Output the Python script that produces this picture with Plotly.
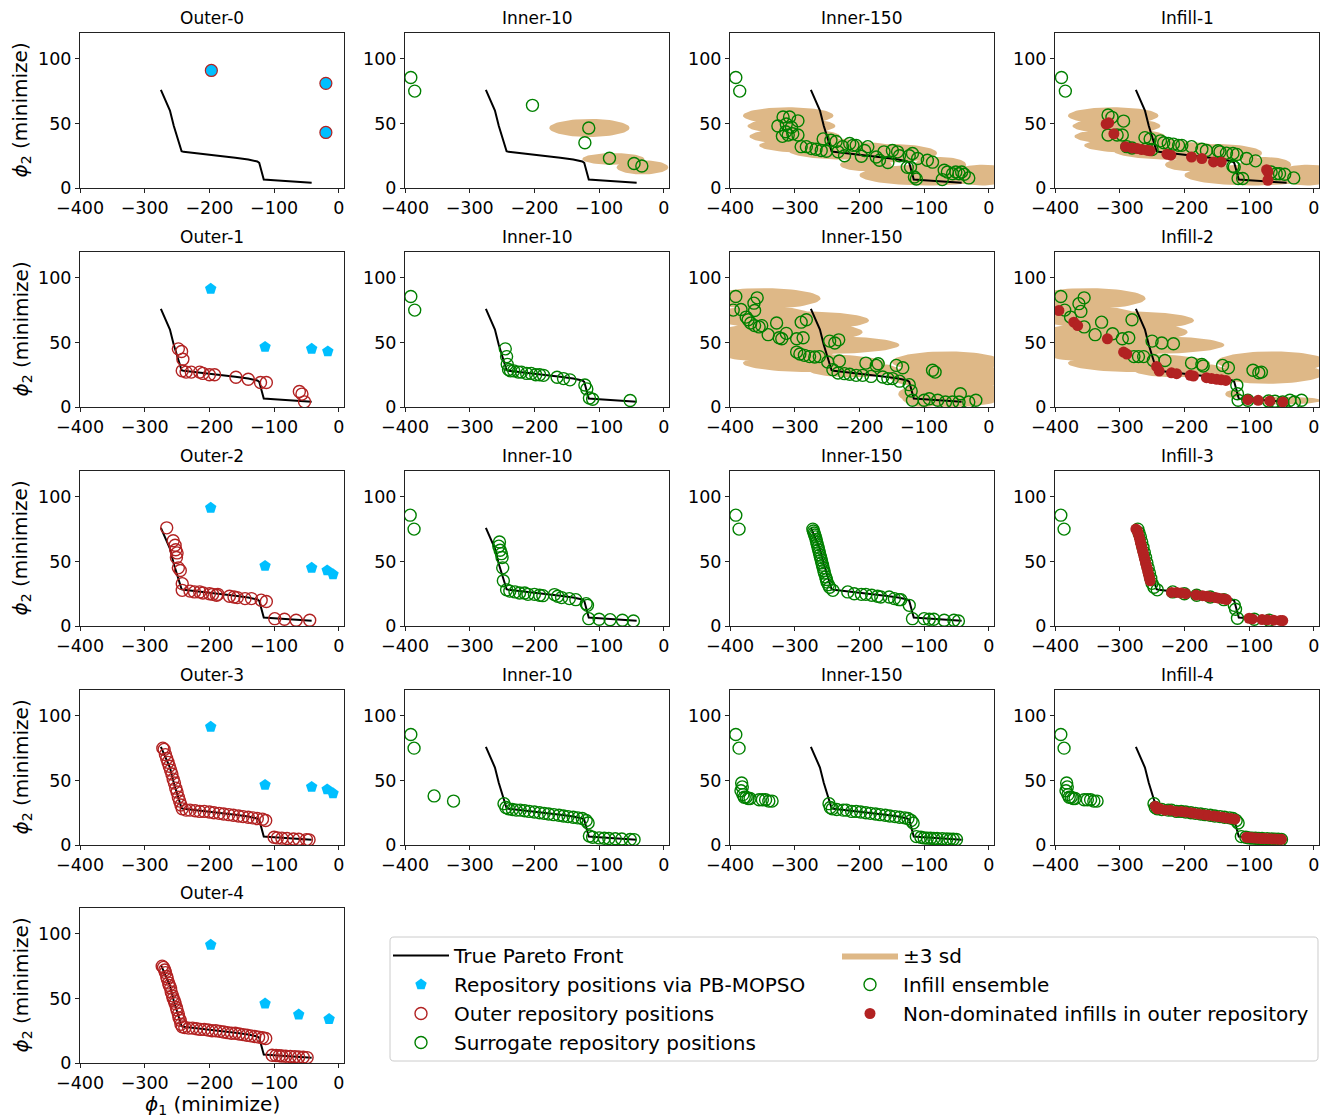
import numpy as np
import plotly.graph_objects as go

W, H = 1329, 1119

# ---------------- data ----------------
x_ticks = [-400, -300, -200, -100, 0]
y_ticks = [0, 50, 100]

pf_x = [-275, -268, -261, -255, -249, -243, -240, -220, -200, -180, -160, -140, -126, -123, -119, -116, -100, -80, -60, -42]
pf_y = [76, 68, 60, 48, 38, 28.5, 28, 27, 26, 25, 23.5, 22, 20.5, 19.5, 12, 6.5, 6, 5.2, 4.5, 4]

outer0_xy = [(-197, 91), (-20, 81), (-20, 43)]

outer1_pb = [(-198, 91.5), (-114, 46.5), (-42, 45), (-17, 43)]
outer2_pb = [(-198, 91.5), (-114, 46.5), (-42, 45), (-18, 43), (-9, 40)]
outer3_pb = [(-198, 91.5), (-114, 46.5), (-42, 45), (-18, 43), (-9, 40)]
outer4_pb = [(-198, 91.5), (-114, 46), (-62, 37.5), (-15, 34)]

outer1_repo = [(-248, 45), (-243, 43), (-241, 37), (-242, 28), (-236, 27), (-228, 27), (-215, 27), (-210, 26),
               (-200, 25), (-192, 25), (-159, 23), (-140, 21.5), (-121, 19), (-112, 19), (-61, 12), (-57, 10), (-53, 4)]
outer2_repo = [(-266, 76), (-256, 66), (-253, 62.5), (-252, 59), (-250, 56.6), (-251, 53), (-248, 45), (-245, 43),
               (-242, 32.8), (-242, 27.6), (-230, 27), (-223, 26.4), (-215, 26.4), (-210, 25.6), (-200, 25),
               (-195, 24.5), (-189, 23.8), (-187, 24.5), (-169, 23), (-162, 22.5), (-157, 22), (-145, 21.2),
               (-135, 21.2), (-120, 20), (-112, 19), (-99, 5.7), (-84, 5.2), (-66, 4.4), (-45, 4.4)]
outer3_repo = [(-272, 75), (-270, 74), (-268, 70), (-266, 67), (-264, 64), (-262, 61), (-260, 58), (-258, 55),
               (-256, 51), (-254, 48), (-252, 44), (-250, 41), (-248, 37), (-246, 34), (-244, 31), (-242, 28),
               (-236, 27), (-230, 27), (-222, 26.5), (-215, 26), (-208, 26), (-200, 25.5), (-193, 25), (-185, 24.5),
               (-178, 24), (-170, 23.5), (-163, 23), (-155, 22.5), (-148, 22), (-140, 21.5), (-133, 21), (-126, 20.5),
               (-118, 20), (-113, 19), (-100, 6), (-95, 5.5), (-88, 5.3), (-80, 5), (-70, 4.6), (-62, 4.5), (-50, 4.2), (-46, 4)]
outer4_repo = [(-273, 75), (-271, 74), (-269, 72), (-268, 70), (-266, 67), (-265, 65), (-263, 62), (-262, 60),
               (-260, 58), (-259, 55), (-257, 52), (-256, 50), (-254, 48), (-253, 46), (-251, 43), (-250, 41),
               (-248, 38), (-247, 35), (-245, 33), (-244, 30), (-242, 28), (-238, 27.5), (-232, 27), (-226, 27),
               (-220, 26.5), (-214, 26), (-208, 26), (-202, 25.5), (-196, 25), (-190, 25), (-184, 24.5), (-178, 24),
               (-172, 23.5), (-166, 23), (-160, 23), (-154, 22.5), (-148, 22), (-142, 21.5), (-136, 21), (-130, 20.5),
               (-124, 20), (-118, 19.5), (-113, 19), (-103, 6), (-97, 5.8), (-92, 5.6), (-88, 5.4), (-82, 5.2),
               (-75, 5), (-68, 4.8), (-62, 4.6), (-55, 4.4), (-49, 4.2)]

inner10_r1 = [(-391, 85.5), (-385, 75), (-203, 64), (-116, 46.5), (-122, 35), (-84, 23), (-46, 19), (-34, 17)]
inner10_r2 = [(-391, 85.5), (-385, 75), (-245, 45), (-243, 39), (-242, 33), (-240, 29), (-237, 28), (-232, 28),
              (-225, 27), (-220, 27), (-212, 26), (-205, 26), (-198, 25), (-192, 25), (-186, 24.5), (-165, 23),
              (-155, 22), (-145, 21), (-122, 17), (-119, 14), (-115, 7), (-110, 6), (-52, 5)]
inner10_r3 = [(-392, 85.8), (-386, 75), (-254, 65), (-255, 61.8), (-253, 58.7), (-251, 56), (-250, 53), (-249, 45),
              (-248, 35), (-243, 28), (-238, 27), (-230, 26.4), (-223, 25.6), (-215, 25.6), (-210, 24.5), (-200, 24.5),
              (-192, 23.8), (-187, 23.5), (-169, 24.3), (-164, 23), (-158, 22), (-146, 21.2), (-136, 20.4),
              (-120, 17.3), (-118, 16), (-116, 5.7), (-100, 5.2), (-83, 4.9), (-64, 4.4), (-47, 3.9)]
inner10_r4 = [(-391, 85.5), (-386, 75), (-355, 38), (-325, 34), (-247, 32), (-244, 29), (-240, 28), (-234, 27.5),
              (-228, 27), (-222, 27), (-215, 26.5), (-208, 26), (-200, 25.5), (-192, 25), (-185, 24.5), (-178, 24),
              (-170, 23.5), (-162, 23), (-155, 22.5), (-148, 22), (-140, 21.5), (-133, 21), (-126, 20.5), (-120, 19),
              (-117, 17), (-115, 7), (-110, 6), (-100, 5.5), (-92, 5.2), (-85, 5), (-75, 4.8), (-65, 4.6), (-52, 4.3), (-46, 4.2)]

inner150_r1 = [(-391, 85.5), (-385, 75), (-326, 48), (-318, 55), (-313, 49.5), (-308, 55), (-305, 47), (-314, 43.5),
               (-319, 40), (-310, 41), (-303, 42), (-295, 41), (-295, 52), (-290, 32), (-282, 32), (-274, 30.5),
               (-267, 30), (-259, 29), (-251, 28.5), (-256, 38), (-244, 37), (-236, 36), (-226, 32), (-215, 34.5),
               (-210, 33), (-205, 33), (-192, 29), (-187, 32), (-233, 28), (-223, 25), (-197, 24.6), (-174, 24),
               (-169, 21.5), (-162, 28), (-156, 19.7), (-149, 29), (-141, 28), (-138, 25), (-123, 25), (-118, 26.7),
               (-110, 22.8), (-95, 21.5), (-87, 20), (-126, 16), (-121, 16), (-115, 8.5), (-112, 7), (-72, 6.5),
               (-69, 13.7), (-64, 12.4), (-56, 11), (-51, 12.4), (-46, 11), (-42, 12.4), (-38, 10.6), (-31, 7.8)]
infill1_green = [(-390, 85.5), (-384, 75), (-318, 56.5), (-312, 54.7), (-294, 51.8), (-318, 41), (-304, 41), (-296, 41),
                 (-289, 32), (-281, 31), (-261, 39), (-253, 38), (-237, 36.5), (-232, 35), (-225, 34.5), (-217, 34),
                 (-209, 33), (-204, 33), (-189, 32), (-173, 30), (-166, 29), (-148, 28.8), (-145, 28), (-135, 27),
                 (-125, 26.7), (-119, 26), (-104, 22.8), (-90, 21), (-125, 16.8), (-123, 16.3), (-117, 7.3), (-110, 7.3),
                 (-66, 12.4), (-58, 11), (-53, 11), (-45, 10.6), (-31, 7.8), (-258, 30.5), (-250, 29.8)]
infill1_nd = [(-321, 49.5), (-317, 50.5), (-309, 42), (-291, 32), (-281, 31), (-273, 30.5), (-266, 29.8), (-258, 29.3),
              (-253, 28.8), (-227, 26.2), (-221, 25.4), (-189, 24), (-173, 22.8), (-155, 20.2), (-143, 20.2),
              (-73, 14.2), (-71, 12.4), (-71, 6)]

inner150_r2 = [(-395, 75), (-391, 85.6), (-383, 75.5), (-375, 69.6), (-372, 67.5), (-368, 65), (-363, 80.4), (-362, 74.7),
               (-362, 63), (-358, 84.5), (-355, 62), (-351, 63), (-341, 56), (-328, 65), (-324, 53.6), (-320, 52.8),
               (-313, 57), (-297, 52.8), (-287, 53.6), (-297, 42.5), (-292, 41), (-285, 40), (-277, 39), (-269, 38.7),
               (-262, 39), (-290, 65.7), (-282, 67.5), (-246, 51), (-238, 49.5), (-232, 52), (-249, 34.8), (-241, 28.9),
               (-231, 35.6), (-233, 26.3), (-223, 25.8), (-215, 25.3), (-205, 24.5), (-195, 24.5), (-190, 34),
               (-182, 23.7), (-174, 32.2), (-171, 33.5), (-164, 23.2), (-156, 22), (-149, 22), (-143, 32.2),
               (-133, 30.4), (-138, 20), (-123, 17.3), (-120, 12.4), (-118, 5.2), (-100, 5.2), (-87, 28.4), (-83, 27),
               (-92, 6.4), (-79, 5.2), (-67, 3.9), (-56, 3.9), (-44, 10.3), (-46, 3.9), (-31, 3.9), (-20, 5.2)]
infill2_green = [(-391, 85.6), (-385, 75), (-376, 69.6), (-363, 80), (-360, 74), (-355, 84.5), (-355, 62), (-338, 56),
                 (-328, 65.7), (-311, 56.7), (-296, 52.8), (-286, 53.6), (-281, 67.5), (-278, 39), (-271, 39), (-263, 39),
                 (-250, 51), (-235, 49.5), (-217, 49), (-248, 36), (-230, 36), (-189, 34), (-173, 33), (-171, 31.7),
                 (-141, 32.2), (-132, 30.4), (-94, 28.4), (-85, 26.5), (-81, 27), (-119, 16.8), (-118, 10.3),
                 (-117, 5.2), (-102, 5.2), (-37, 5.2), (-30, 3.9), (-19, 5.2), (-48, 3.9), (-60, 4.5), (-70, 4.6)]
infill2_nd = [(-394, 74.7), (-371, 65.7), (-365, 63), (-319, 52.8), (-294, 42.5), (-289, 41), (-243, 31.4), (-239, 27.8),
              (-220, 26.5), (-212, 25.8), (-191, 24.5), (-186, 24), (-166, 22.7), (-158, 22), (-150, 21.4), (-143, 21),
              (-136, 20.6), (-102, 5.7), (-86, 5.2), (-68, 4.6), (-48, 3.9)]

inner150_r3 = [(-391, 85.8), (-386, 75), (-272, 75), (-271, 73.5), (-270, 72), (-269, 70.5), (-268, 69), (-267, 67),
               (-266, 65), (-265, 63), (-264, 61), (-263, 59), (-262, 57), (-261, 55), (-260, 53), (-259, 51), (-258, 49),
               (-257, 47), (-256, 45), (-255, 43), (-254, 41), (-252, 38), (-251, 36), (-250, 34), (-248, 32), (-246, 30),
               (-241, 27.6), (-218, 26.4), (-208, 25), (-197, 24.5), (-190, 24.5), (-181, 23.8), (-172, 23), (-167, 22.5),
               (-154, 22.5), (-146, 21.2), (-139, 20.4), (-136, 20.4), (-123, 16), (-118, 5.7), (-100, 5.7), (-92, 5.2),
               (-85, 5.2), (-69, 4.4), (-54, 4.4), (-47, 3.9)]
infill3_green = [(-391, 85.8), (-386, 75), (-272, 75), (-270, 72), (-268, 69), (-266, 65), (-264, 61), (-262, 57),
                 (-260, 53), (-258, 49), (-256, 45), (-254, 41), (-252, 37), (-250, 33), (-247, 30), (-242, 28),
                 (-218, 26.4), (-200, 25), (-181, 23.8), (-160, 22.5), (-139, 20.4), (-123, 16), (-121, 13), (-118, 6),
                 (-92, 5.2), (-69, 4.4)]
infill3_nd = [(-275, 75), (-273, 74), (-272, 72.5), (-271, 71), (-270, 69), (-269, 67), (-268, 65), (-267, 63), (-266, 61),
              (-265, 59), (-264, 57), (-263, 55), (-262, 53), (-261, 51), (-260, 49), (-259, 47), (-258, 45), (-257, 43),
              (-256, 41), (-255, 39), (-254, 37), (-253, 35), (-220, 26), (-212, 26), (-205, 25.5), (-198, 25),
              (-182, 24), (-172, 23.5), (-165, 23), (-160, 22.5), (-152, 22), (-147, 21.5), (-140, 21), (-135, 20.5),
              (-100, 6), (-95, 5.5), (-80, 5), (-72, 4.8), (-62, 4.5), (-52, 4.3), (-48, 4.2)]

inner150_r4 = [(-391, 85.5), (-386, 75), (-382, 48), (-381, 45), (-383, 42), (-380, 39), (-378, 37), (-375, 37),
               (-372, 36), (-369, 36), (-355, 35), (-350, 35), (-345, 35), (-340, 34), (-335, 34),
               (-247, 32), (-245, 29), (-242, 28), (-235, 27.5), (-225, 27), (-220, 27), (-212, 26), (-205, 26),
               (-198, 25.5), (-190, 25), (-183, 24.5), (-175, 24), (-168, 23.5), (-160, 23), (-153, 22.5), (-145, 22),
               (-138, 21.5), (-130, 21), (-125, 20.5), (-120, 19), (-117, 17), (-112, 6.5), (-105, 6), (-100, 5.5),
               (-95, 5.3), (-90, 5.2), (-85, 5), (-80, 5), (-72, 4.8), (-65, 4.6), (-60, 4.5), (-55, 4.4), (-50, 4.3)]
infill4_green = inner150_r4
infill4_nd = [(-245, 30), (-242, 28), (-238, 28), (-230, 27), (-222, 27), (-213, 26), (-205, 26), (-198, 25.5), (-190, 25),
              (-185, 24.5), (-178, 24), (-170, 23.5), (-163, 23), (-155, 22.5), (-148, 22), (-141, 21.5), (-135, 21),
              (-128, 20.5), (-122, 20), (-104, 6), (-100, 5.8), (-95, 5.6), (-90, 5.4), (-85, 5.2), (-80, 5), (-75, 5),
              (-70, 4.8), (-65, 4.7), (-60, 4.6), (-55, 4.5), (-50, 4.4)]

# +-3 sd regions: (centre x, centre y, 3sd in x, 3sd in y)
sd_inner10_r1 = [(-115, 46.5, 62, 7), (-78, 22.5, 48, 4.5), (-33, 16, 40, 5.5)]
sd_r1 = [(-310, 56, 70, 6.5), (-305, 48, 68, 6), (-300, 40, 70, 6), (-270, 33, 85, 6), (-220, 29, 90, 7),
         (-150, 27, 70, 7), (-190, 18, 40, 5), (-95, 10, 105, 8), (-10, 10, 50, 8), (-75, 18, 40, 6)]
sd_r2 = [(-350, 84, 90, 8), (-350, 70, 80, 8), (-290, 67, 105, 7), (-305, 58, 110, 8), (-360, 50, 60, 6),
         (-260, 48, 122, 7), (-330, 42, 90, 7), (-270, 34, 110, 7), (-210, 29, 70, 6), (-65, 35, 85, 8),
         (-60, 24, 95, 10), (-55, 10, 85, 10), (-100, 8, 35, 8)]
sd_r2_infill = [(-350, 84, 90, 8), (-350, 70, 80, 8), (-290, 67, 105, 7), (-305, 58, 110, 8), (-360, 50, 60, 6),
                (-260, 48, 122, 7), (-330, 42, 90, 7), (-270, 34, 110, 7), (-210, 29, 70, 6), (-65, 35, 85, 8),
                (-70, 26, 85, 8), (-125, 10, 12, 3), (-50, 5, 62, 3)]

# ---------------- styling ----------------
FONT = "DejaVu Sans"
RED = "#B22222"
GREEN = "#008000"
CYAN = "#00BFFF"
TAN = "#DEB887"

col_left = [80, 405, 730, 1055]
row_top = [33, 252, 471, 690, 908]
pw, ph = 264, 155

panels = [
    (0, 0, "Outer-0", [("outer0", outer0_xy)]),
    (0, 1, "Inner-10", [("sd", sd_inner10_r1), ("surr", inner10_r1)]),
    (0, 2, "Inner-150", [("sd", sd_r1), ("surr", inner150_r1)]),
    (0, 3, "Infill-1", [("sd", sd_r1), ("infill", infill1_green), ("nd", infill1_nd)]),
    (1, 0, "Outer-1", [("pb", outer1_pb), ("outer", outer1_repo)]),
    (1, 1, "Inner-10", [("surr", inner10_r2)]),
    (1, 2, "Inner-150", [("sd", sd_r2), ("surr", inner150_r2)]),
    (1, 3, "Infill-2", [("sd", sd_r2_infill), ("infill", infill2_green), ("nd", infill2_nd)]),
    (2, 0, "Outer-2", [("pb", outer2_pb), ("outer", outer2_repo)]),
    (2, 1, "Inner-10", [("surr", inner10_r3)]),
    (2, 2, "Inner-150", [("surr", inner150_r3)]),
    (2, 3, "Infill-3", [("infill", infill3_green), ("nd", infill3_nd)]),
    (3, 0, "Outer-3", [("pb", outer3_pb), ("outer", outer3_repo)]),
    (3, 1, "Inner-10", [("surr", inner10_r4)]),
    (3, 2, "Inner-150", [("surr", inner150_r4)]),
    (3, 3, "Infill-4", [("infill", infill4_green), ("nd", infill4_nd)]),
    (4, 0, "Outer-4", [("pb", outer4_pb), ("outer", outer4_repo)]),
]

styles = {
    "pf": dict(name="True Pareto Front", rank=1, legend="legend"),
    "sd": dict(name="±3 sd", rank=2, legend="legend2"),
    "pb": dict(name="Repository positions via PB-MOPSO", rank=3, legend="legend",
               marker=dict(symbol="pentagon", size=12, color=CYAN, line=dict(width=0))),
    "infill": dict(name="Infill ensemble", rank=4, legend="legend2",
                   marker=dict(symbol="circle-open", size=12, color=GREEN, line=dict(width=1.4))),
    "outer": dict(name="Outer repository positions", rank=5, legend="legend",
                  marker=dict(symbol="circle-open", size=12, color=RED, line=dict(width=1.4))),
    "nd": dict(name="Non-dominated infills in outer repository", rank=6, legend="legend2",
               marker=dict(symbol="circle", size=11, color=RED, line=dict(width=0))),
    "surr": dict(name="Surrogate repository positions", rank=7, legend="legend",
                 marker=dict(symbol="circle-open", size=12, color=GREEN, line=dict(width=1.4))),
    "outer0": dict(name="outer0", rank=99, legend="legend",
                   marker=dict(symbol="circle", size=12, color=CYAN, line=dict(width=1.2, color=RED))),
}

theta = np.linspace(0, 2 * np.pi, 73)


def ellipse_path(ells):
    xs, ys = [], []
    for cx, cy, sx, sy in ells:
        xs += list(cx + sx * np.cos(theta)) + [None]
        ys += list(cy + sy * np.sin(theta)) + [None]
    return xs, ys


fig = go.Figure()
shown = set()
axes = {}
annotations = []

axis_style = dict(showline=True, mirror=True, linecolor="#222222", linewidth=1, ticks="outside", ticklen=4,
                  tickwidth=1, tickcolor="#222222", showgrid=False, zeroline=False,
                  tickfont=dict(family=FONT, size=17.5, color="black"), automargin=False, fixedrange=True)


def legend_flag(kind):
    if kind in shown or kind == "outer0":
        return False
    shown.add(kind)
    return True


for k, (r, c, title, layers) in enumerate(panels, start=1):
    s = "" if k == 1 else str(k)
    xa, ya = "x" + s, "y" + s
    left, top = col_left[c], row_top[r]
    axes["xaxis" + s] = dict(domain=[left / W, (left + pw) / W], anchor=ya, range=[-400, 8],
                             tickvals=x_ticks, **axis_style)
    axes["yaxis" + s] = dict(domain=[1 - (top + ph) / H, 1 - top / H], anchor=xa, range=[0, 120],
                             tickvals=y_ticks, **axis_style)
    annotations.append(dict(text=title, x=(left + pw / 2) / W, y=1 - (top - 15) / H, xref="paper", yref="paper",
                            xanchor="center", yanchor="middle", showarrow=False,
                            font=dict(family=FONT, size=17, color="black")))
    if c == 0:
        annotations.append(dict(text="<i>ϕ</i><sub>2</sub> (minimize)", x=21 / W, y=1 - (top + ph / 2) / H,
                                xref="paper", yref="paper", xanchor="center", yanchor="middle", textangle=-90,
                                showarrow=False, font=dict(family=FONT, size=20, color="black")))

    for kind, data in layers:
        if kind == "sd":
            ex, ey = ellipse_path(data)
            st = styles["sd"]
            fig.add_trace(go.Scatter(x=ex, y=ey, xaxis=xa, yaxis=ya, mode="lines", fill="toself",
                                     fillcolor=TAN, line=dict(width=0, color=TAN), name=st["name"],
                                     legend=st["legend"], legendrank=st["rank"],
                                     showlegend=legend_flag("sd"), hoverinfo="skip"))
    fig.add_trace(go.Scatter(x=pf_x, y=pf_y, xaxis=xa, yaxis=ya, mode="lines",
                             line=dict(color="black", width=2), name=styles["pf"]["name"],
                             legend="legend", legendrank=styles["pf"]["rank"], showlegend=legend_flag("pf")))
    for kind, data in layers:
        if kind == "sd":
            continue
        st = styles[kind]
        px = [p[0] for p in data]
        py = [p[1] for p in data]
        fig.add_trace(go.Scatter(x=px, y=py, xaxis=xa, yaxis=ya, mode="markers", marker=st["marker"],
                                 name=st["name"], legend=st["legend"], legendrank=st["rank"],
                                 showlegend=legend_flag(kind)))

annotations.append(dict(text="<i>ϕ</i><sub>1</sub> (minimize)", x=(col_left[0] + pw / 2) / W, y=1 - 1105 / H,
                        xref="paper", yref="paper", xanchor="center", yanchor="middle", showarrow=False,
                        font=dict(family=FONT, size=20, color="black")))

# legend frame (rounded rectangle) in paper coordinates
lx0, lx1, ly0, ly1, rad = 390, 1318, 937, 1061, 4


def P(x, y):
    return f"{x / W:.6f},{1 - y / H:.6f}"


frame_path = (f"M{P(lx0 + rad, ly0)} L{P(lx1 - rad, ly0)} Q{P(lx1, ly0)} {P(lx1, ly0 + rad)} "
              f"L{P(lx1, ly1 - rad)} Q{P(lx1, ly1)} {P(lx1 - rad, ly1)} L{P(lx0 + rad, ly1)} "
              f"Q{P(lx0, ly1)} {P(lx0, ly1 - rad)} L{P(lx0, ly0 + rad)} Q{P(lx0, ly0)} {P(lx0 + rad, ly0)} Z")

legend_common = dict(yanchor="top", xanchor="left", orientation="v", borderwidth=0,
                     bgcolor="rgba(255,255,255,0)", font=dict(family=FONT, size=20, color="black"), itemwidth=56)

fig.update_layout(
    width=W, height=H, margin=dict(l=0, r=0, t=0, b=0),
    paper_bgcolor="white", plot_bgcolor="white",
    font=dict(family=FONT, size=16, color="black"),
    annotations=annotations,
    shapes=[dict(type="path", path=frame_path, xref="paper", yref="paper",
                 line=dict(color="#cccccc", width=1), fillcolor="rgba(255,255,255,0)", layer="below")],
    legend=dict(x=388 / W, y=1 - 936 / H, **legend_common),
    legend2=dict(x=837 / W, y=1 - 936 / H, **legend_common),
    **axes,
)

fig.write_html("out.html", config={"displayModeBar": False},
               post_script="document.body.style.margin='0';document.body.style.padding='0';")
